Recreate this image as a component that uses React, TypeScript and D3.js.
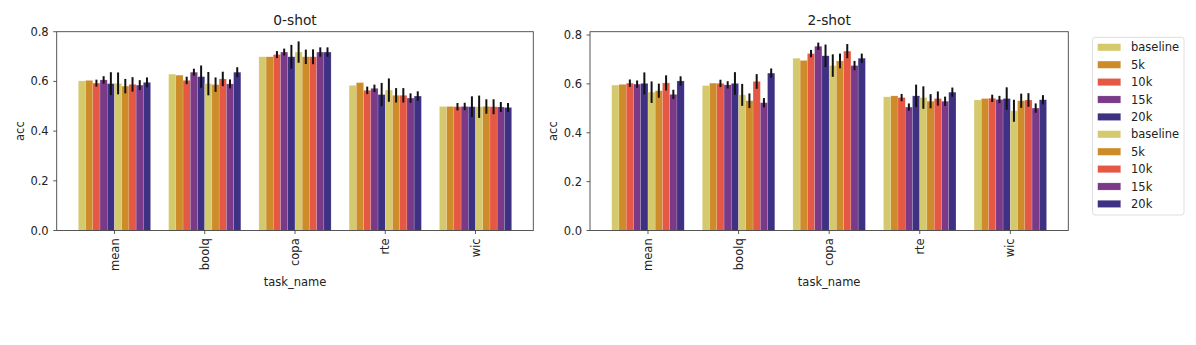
import React from "react";
import * as d3 from "d3";

const tasks = ["mean", "boolq", "copa", "rte", "wic"];
const hueLabels = ["baseline", "5k", "10k", "15k", "20k", "baseline", "5k", "10k", "15k", "20k"];
const hueColors = ["#d5c96e", "#cd8b29", "#e55843", "#7a3a88", "#3e3184", "#d5c96e", "#cd8b29", "#e55843", "#7a3a88", "#3e3184"];
const yTicks = [0, 0.2, 0.4, 0.6, 0.8];
const panelTitles = ["0-shot", "2-shot"];

// rows = tasks, columns = hue levels
const zeroShotAcc = [
  [0.602, 0.604, 0.593, 0.606, 0.591, 0.592, 0.581, 0.588, 0.585, 0.596],
  [0.629, 0.625, 0.604, 0.637, 0.619, 0.591, 0.587, 0.610, 0.590, 0.637],
  [0.699, 0.699, 0.708, 0.718, 0.699, 0.718, 0.699, 0.699, 0.718, 0.718],
  [0.584, 0.595, 0.564, 0.572, 0.547, 0.565, 0.544, 0.544, 0.533, 0.541],
  [0.499, 0.499, 0.498, 0.499, 0.498, 0.498, 0.499, 0.498, 0.497, 0.495],
];
const zeroShotErr = [
  [0, 0, 0.014, 0.015, 0.046, 0.044, 0.029, 0.029, 0.020, 0.020],
  [0, 0, 0.015, 0.014, 0.045, 0.047, 0.029, 0.029, 0.018, 0.020],
  [0, 0, 0.014, 0.014, 0.048, 0.043, 0.029, 0.030, 0.019, 0.019],
  [0, 0, 0.015, 0.015, 0.047, 0.047, 0.029, 0.029, 0.019, 0.019],
  [0, 0, 0.015, 0.015, 0.042, 0.045, 0.029, 0.030, 0.020, 0.018],
];
const twoShotAcc = [
  [0.595, 0.598, 0.603, 0.599, 0.602, 0.566, 0.572, 0.604, 0.557, 0.612],
  [0.593, 0.603, 0.602, 0.596, 0.602, 0.555, 0.531, 0.610, 0.523, 0.644],
  [0.705, 0.696, 0.724, 0.754, 0.715, 0.675, 0.694, 0.734, 0.675, 0.705],
  [0.547, 0.551, 0.544, 0.505, 0.551, 0.544, 0.529, 0.540, 0.529, 0.566],
  [0.534, 0.540, 0.541, 0.536, 0.540, 0.490, 0.531, 0.534, 0.501, 0.535],
];
const twoShotErr = [
  [0, 0, 0.015, 0.015, 0.045, 0.044, 0.029, 0.031, 0.019, 0.019],
  [0, 0, 0.015, 0.015, 0.046, 0.045, 0.030, 0.030, 0.019, 0.019],
  [0, 0, 0.015, 0.015, 0.046, 0.046, 0.030, 0.029, 0.019, 0.019],
  [0, 0, 0.015, 0.015, 0.046, 0.046, 0.029, 0.029, 0.019, 0.019],
  [0, 0, 0.015, 0.015, 0.046, 0.045, 0.029, 0.028, 0.019, 0.019],
];

const FONT = "DejaVu Sans, sans-serif";
const FS = 11.5;
const TITLE_FS = 13.8;

type PanelProps = {
  x0: number;
  x1: number;
  yMax: number;
  title: string;
  acc: number[][];
  err: number[][];
};

function Panel({ x0, x1, yMax, title, acc, err }: PanelProps) {
  const top = 31.7;
  const bottom = 230.5;
  const x = d3.scaleLinear().domain([-0.64, 4.64]).range([x0, x1]);
  const y = d3.scaleLinear().domain([0, yMax]).range([bottom, top]);
  const nHue = hueLabels.length;
  const groupW = 0.8;
  const bw = groupW / nHue;
  const cx = (x0 + x1) / 2;
  return (
    <g>
      {tasks.map((t, ti) =>
        hueLabels.map((h, hi) => {
          const left = ti - groupW / 2 + hi * bw;
          const v = acc[ti][hi];
          return (
            <rect
              key={`b-${t}-${hi}`}
              x={x(left)}
              y={y(v)}
              width={x(left + bw) - x(left)}
              height={y(0) - y(v)}
              fill={hueColors[hi]}
              stroke="#ffffff"
              strokeOpacity={0.3}
              strokeWidth={0.5}
            />
          );
        })
      )}
      {tasks.map((t, ti) =>
        hueLabels.map((h, hi) => {
          const e = err[ti][hi];
          if (!e) return null;
          const c = ti - groupW / 2 + (hi + 0.5) * bw;
          const v = acc[ti][hi];
          return (
            <line
              key={`e-${t}-${hi}`}
              x1={x(c)}
              x2={x(c)}
              y1={y(v - e)}
              y2={y(v + e)}
              stroke="#111"
              strokeWidth={2}
            />
          );
        })
      )}
      <rect x={x0} y={top} width={x1 - x0} height={bottom - top} fill="none" stroke="#444" strokeWidth={0.9} />
      {yTicks.map((v) => (
        <g key={`yt-${v}`}>
          <line x1={x0 - 3.5} x2={x0} y1={y(v)} y2={y(v)} stroke="#333" strokeWidth={0.8} />
          <text x={x0 - 8} y={y(v)} dy="0.35em" textAnchor="end" fontSize={FS} fontFamily={FONT} fill="#222">
            {v.toFixed(1)}
          </text>
        </g>
      ))}
      {tasks.map((t, ti) => (
        <g key={`xt-${t}`}>
          <line x1={x(ti)} x2={x(ti)} y1={bottom} y2={bottom + 3.5} stroke="#333" strokeWidth={0.8} />
          <text
            transform={`translate(${x(ti)},${bottom + 7.8}) rotate(-90)`}
            dy="0.35em"
            textAnchor="end"
            fontSize={FS}
            fontFamily={FONT}
            fill="#222"
          >
            {t}
          </text>
        </g>
      ))}
      <text x={cx} y={286} textAnchor="middle" fontSize={FS} fontFamily={FONT} fill="#222">
        task_name
      </text>
      <text
        transform={`translate(${x0 - 37},${(top + bottom) / 2}) rotate(-90)`}
        dy="0.35em"
        textAnchor="middle"
        fontSize={FS}
        fontFamily={FONT}
        fill="#222"
      >
        acc
      </text>
      <text x={cx} y={25.3} textAnchor="middle" fontSize={TITLE_FS} fontFamily={FONT} fill="#222">
        {title}
      </text>
    </g>
  );
}

function Legend() {
  const lx = 1092.5;
  const ly = 37.3;
  const w = 91.5;
  const h = 177.7;
  const step = 17.4;
  return (
    <g>
      <rect x={lx} y={ly} width={w} height={h} rx={2.5} fill="#fff" stroke="#d6d6d6" strokeWidth={0.8} />
      {hueLabels.map((lab, i) => {
        const cy = 47.3 + i * step;
        return (
          <g key={`lg-${i}`}>
            <rect x={1097.7} y={cy - 3.6} width={23} height={7.2} fill={hueColors[i]} stroke="#fff" strokeOpacity={0.3} strokeWidth={0.5} />
            <text x={1131} y={cy} dy="0.35em" fontSize={FS} fontFamily={FONT} fill="#222">
              {lab}
            </text>
          </g>
        );
      })}
    </g>
  );
}

export default function App() {
  return (
    <svg
      width={1196}
      height={345}
      style={{ position: "absolute", left: 0, top: 0, background: "#fff" }}
    >
      <rect x={0} y={0} width={1196} height={345} fill="#fff" />
      <Panel x0={56.7} x1={533.3} yMax={0.8} title={panelTitles[0]} acc={zeroShotAcc} err={zeroShotErr} />
      <Panel x0={590} x1={1068.3} yMax={0.8136} title={panelTitles[1]} acc={twoShotAcc} err={twoShotErr} />
      <Legend />
    </svg>
  );
}
